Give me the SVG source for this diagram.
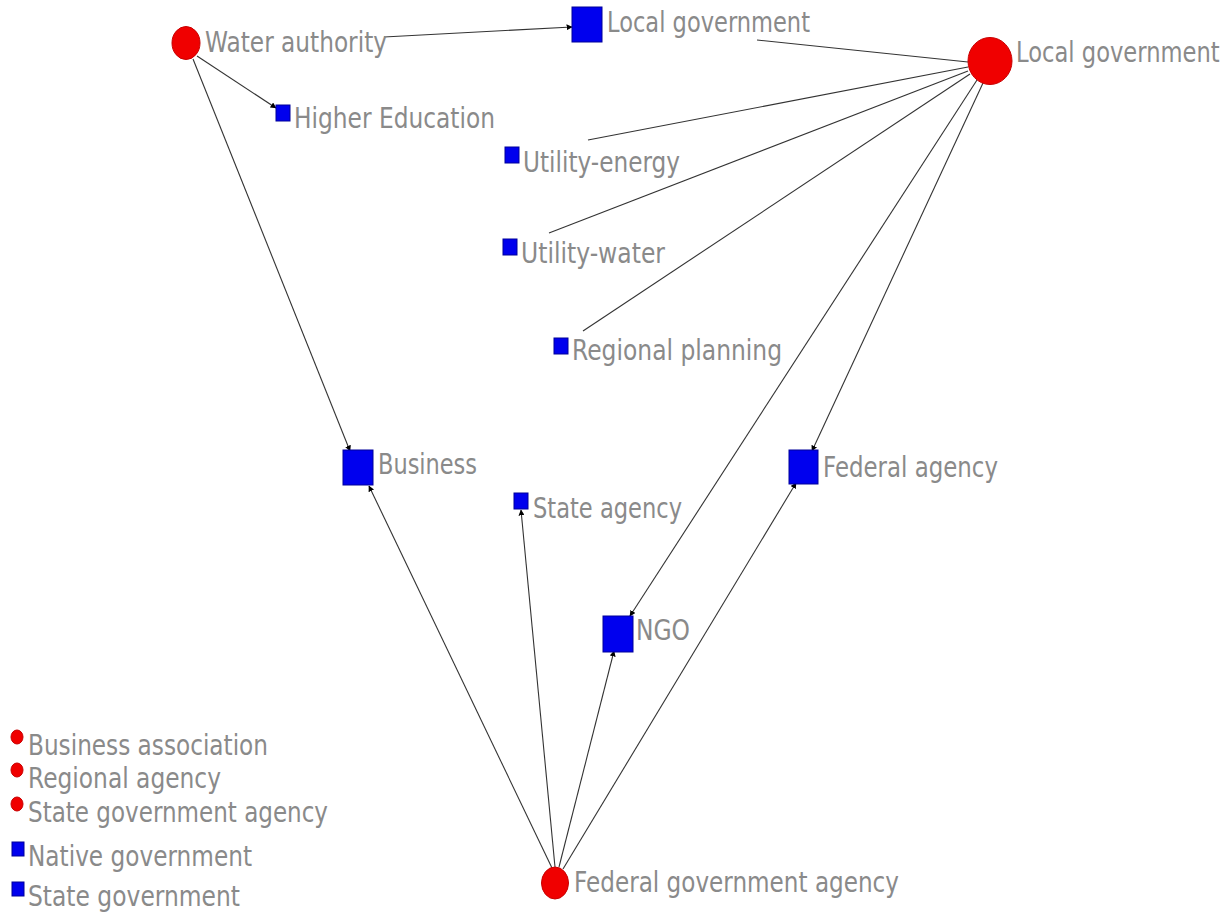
<svg xmlns="http://www.w3.org/2000/svg" width="1231" height="913" viewBox="0 0 1231 913">
<defs>
<style>
.lbl{font-family:"DejaVu Sans","Liberation Sans",sans-serif;font-size:29px;fill:#8a8a8a;}
.edge{stroke:#333;stroke-width:1.1;fill:none;}
.arr{marker-end:url(#ah);}
.red{fill:#f00000;stroke:#c80000;stroke-width:1;}
.blue{fill:#0000ee;stroke:#00009a;stroke-width:1;}
</style>
<marker id="ah" viewBox="0 0 10 10" refX="9" refY="5" markerWidth="6" markerHeight="6" markerUnits="userSpaceOnUse" orient="auto">
<path d="M0,0 L10,5 L0,10 z" fill="#000"/>
</marker>
</defs>
<rect width="1231" height="913" fill="#fff"/>
<g id="connectors">
<line class="edge arr" x1="384" y1="37" x2="572" y2="27"/>
<line class="edge arr" x1="197" y1="56" x2="276" y2="108"/>
<line class="edge arr" x1="193" y1="59" x2="350" y2="451"/>
<line class="edge" x1="757" y1="40" x2="968" y2="62"/>
<line class="edge" x1="588" y1="140" x2="968" y2="67"/>
<line class="edge" x1="549" y1="233" x2="968" y2="71"/>
<line class="edge" x1="583" y1="331" x2="970" y2="74"/>
<line class="edge arr" x1="977" y1="80" x2="630" y2="616"/>
<line class="edge arr" x1="983" y1="83" x2="812" y2="451"/>
<line class="edge arr" x1="552" y1="868" x2="369" y2="486"/>
<line class="edge arr" x1="555" y1="867" x2="521" y2="510"/>
<line class="edge arr" x1="559" y1="867" x2="614" y2="651"/>
<line class="edge arr" x1="563" y1="869" x2="796" y2="483"/>
</g>
<g id="n-water-authority">
<ellipse class="red" cx="186" cy="43" rx="14" ry="16.5"/>
<text class="lbl" x="205" y="52" textLength="182" lengthAdjust="spacingAndGlyphs">Water authority</text>
</g>
<g id="n-local-gov-sq">
<rect class="blue" x="572" y="7" width="30" height="35"/>
<text class="lbl" x="607" y="32" textLength="203" lengthAdjust="spacingAndGlyphs">Local government</text>
</g>
<g id="n-local-gov-circle">
<ellipse class="red" cx="990" cy="61" rx="22" ry="23.5"/>
<g transform="translate(1016,62) scale(0.78,1)">
<text class="lbl" x="0" y="0">Local government</text>
</g>
</g>
<g id="n-higher-education">
<rect class="blue" x="276" y="105" width="14" height="16"/>
<text class="lbl" x="294" y="128" textLength="201" lengthAdjust="spacingAndGlyphs">Higher Education</text>
</g>
<g id="n-utility-energy">
<rect class="blue" x="505" y="147" width="14" height="16"/>
<text class="lbl" x="523" y="172" textLength="157" lengthAdjust="spacingAndGlyphs">Utility-energy</text>
</g>
<g id="n-utility-water">
<rect class="blue" x="503" y="239" width="14" height="16"/>
<text class="lbl" x="521" y="263" textLength="144" lengthAdjust="spacingAndGlyphs">Utility-water</text>
</g>
<g id="n-regional-planning">
<rect class="blue" x="554" y="338" width="14" height="16"/>
<text class="lbl" x="572" y="360" textLength="210" lengthAdjust="spacingAndGlyphs">Regional planning</text>
</g>
<g id="n-business">
<rect class="blue" x="343" y="450" width="30" height="35"/>
<text class="lbl" x="378" y="474" textLength="99" lengthAdjust="spacingAndGlyphs">Business</text>
</g>
<g id="n-state-agency">
<rect class="blue" x="514" y="493" width="14" height="16"/>
<text class="lbl" x="533" y="518" textLength="149" lengthAdjust="spacingAndGlyphs">State agency</text>
</g>
<g id="n-federal-agency">
<rect class="blue" x="789" y="450" width="29" height="34"/>
<text class="lbl" x="823" y="477" textLength="175" lengthAdjust="spacingAndGlyphs">Federal agency</text>
</g>
<g id="n-ngo">
<rect class="blue" x="603" y="616" width="30" height="36"/>
<text class="lbl" x="636" y="640" textLength="54" lengthAdjust="spacingAndGlyphs">NGO</text>
</g>
<g id="n-federal-gov-agency">
<ellipse class="red" cx="555" cy="883" rx="13.5" ry="16"/>
<text class="lbl" x="574" y="892" textLength="325" lengthAdjust="spacingAndGlyphs">Federal government agency</text>
</g>
<g id="legend">
<ellipse class="red" cx="17" cy="737" rx="6" ry="7"/>
<text class="lbl" x="28" y="755" textLength="240" lengthAdjust="spacingAndGlyphs">Business association</text>
<ellipse class="red" cx="17" cy="770" rx="6" ry="7"/>
<text class="lbl" x="28" y="788" textLength="193" lengthAdjust="spacingAndGlyphs">Regional agency</text>
<ellipse class="red" cx="17" cy="804" rx="6" ry="7"/>
<text class="lbl" x="28" y="822" textLength="300" lengthAdjust="spacingAndGlyphs">State government agency</text>
<rect class="blue" x="12" y="842" width="12" height="14"/>
<text class="lbl" x="28" y="866" textLength="224" lengthAdjust="spacingAndGlyphs">Native government</text>
<rect class="blue" x="12" y="882" width="12" height="14"/>
<text class="lbl" x="28" y="906" textLength="212" lengthAdjust="spacingAndGlyphs">State government</text>
</g>
</svg>
